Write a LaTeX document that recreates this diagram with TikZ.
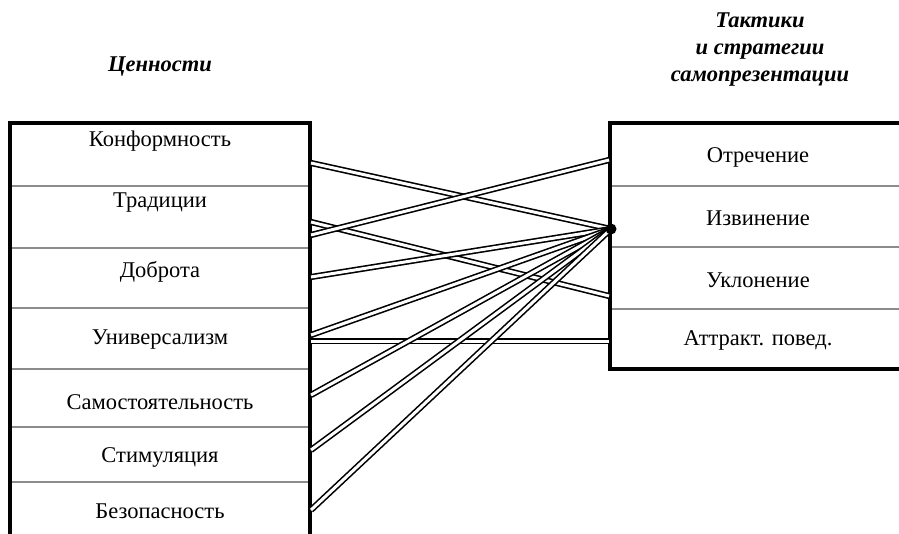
\documentclass[tikz,border=0pt]{standalone}
\usepackage{fontspec}
\setmainfont{Liberation Serif}
\tikzset{
  link/.style={double, double distance=3pt, line width=1.6pt},
  rowtext/.style={font=\fontsize{22.5}{26}\selectfont},
  headtext/.style={font=\fontsize{22.5}{27}\selectfont\bfseries\itshape, align=center},
  divider/.style={black!45, line width=1.6pt},
  frame/.style={line width=3.4pt}
}
\begin{document}
\begin{tikzpicture}[x=1pt, y=-1pt]
  \useasboundingbox (0,0) rectangle (899,533);
  % headers
  \node [headtext] (values) at (160,67) {Ценности};
  \node [headtext] (tactics) at (760,50) {Тактики\\и стратегии\\самопрезентации};
  % left box
  \foreach \y in {186,248,308,369,427,482}
    \draw [divider] (10,\y) -- (310,\y);
  \draw [frame] (10,545) -- (10,123) -- (310,123) -- (310,545);
  \node [rowtext] (konf) at (160,141) {Конформность};
  \node [rowtext] (trad) at (160,203) {Традиции};
  \node [rowtext] (dobr) at (160,272) {Доброта};
  \node [rowtext] (univ) at (160,340) {Универсализм};
  \node [rowtext] (samo) at (160,402) {Самостоятельность};
  \node [rowtext] (stim) at (160,457) {Стимуляция};
  \node [rowtext] (bezo) at (160,511) {Безопасность};
  % right box
  \foreach \y in {186,247,309}
    \draw [divider] (610,\y) -- (905,\y);
  \draw [frame] (905,123) -- (610,123) -- (610,369) -- (905,369);
  \node [rowtext] (otr) at (758,157) {Отречение};
  \node [rowtext] (izv) at (758,218) {Извинение};
  \node [rowtext] (ukl) at (758,280) {Уклонение};
  \node [rowtext] (attr) at (758,340) {Аттракт. повед.};
  % ends of the links
  \coordinate (konf-r) at (311,163);
  \coordinate (trad-r1) at (311,222);
  \coordinate (trad-r2) at (311,235);
  \coordinate (dobr-r) at (311,277);
  \coordinate (univ-r1) at (311,335);
  \coordinate (univ-r2) at (311,341);
  \coordinate (samo-r) at (311,395);
  \coordinate (stim-r) at (311,450);
  \coordinate (bezo-r) at (311,510);
  \coordinate (otr-l) at (609,160);
  \coordinate (hub) at (611,229);
  \coordinate (ukl-l) at (609,296);
  \coordinate (attr-l) at (609,341);
  % links
  \draw [link] (konf-r) -- (hub);
  \draw [link] (trad-r1) -- (ukl-l);
  \draw [link] (trad-r2) -- (otr-l);
  \draw [link] (dobr-r) -- (hub);
  \draw [link] (univ-r2) -- (attr-l);
  \draw [link] (univ-r1) -- (hub);
  \draw [link] (samo-r) -- (hub);
  \draw [link] (stim-r) -- (hub);
  \draw [link] (bezo-r) -- (hub);
  \fill (hub) circle (5.5);
\end{tikzpicture}
\end{document}
